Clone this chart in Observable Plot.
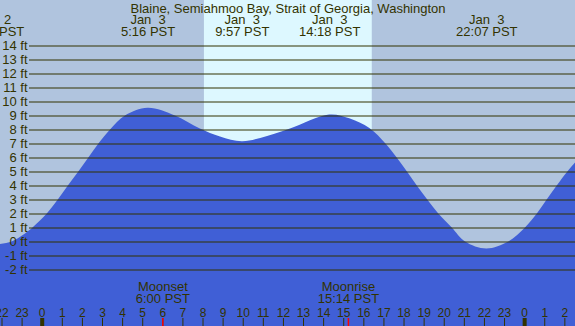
<!DOCTYPE html>
<html><head><meta charset="utf-8">
<script src="https://cdn.jsdelivr.net/npm/d3@7"></script>
<script src="https://cdn.jsdelivr.net/npm/@observablehq/plot@0.6"></script>
<style>
body{margin:0;background:#b0c4de;overflow:hidden}
svg{display:block}
svg text{white-space:pre}
</style>
</head><body><div id="chart"></div>
<script>
const title = "Blaine, Semiahmoo Bay, Strait of Georgia, Washington";

// tide height (ft); hours relative to midnight Jan 3 (PST)
const tideHours = [-2.42, -1.5, -0.83, -0.42, 0.25, 0.80, 1.30, 1.82, 2.32, 2.82, 3.40, 4.14, 5.267, 6.63, 7.87, 8.87, 9.95, 10.87, 12.35, 14.3, 15.3, 16.3, 17.1, 17.66, 18.17, 18.66, 19.18, 19.73, 20.40, 21.06, 22.117, 23.21, 24.04, 24.63, 25.12, 25.62, 26.15, 26.6];
const tideFeet  = [-0.25, 0.0, 0.57, 1.05, 2.0, 3.0, 4.0, 5.0, 6.0, 7.0, 8.0, 9.0, 9.55, 9.0, 8.07, 7.5, 7.16, 7.4, 8.07, 9.07, 8.8, 8.1, 7.0, 6.0, 5.0, 4.0, 3.0, 2.0, 1.0, 0.0, -0.5, 0.0, 1.0, 2.0, 3.0, 4.0, 5.0, 5.75];

// tide extremes labelled at the top
const extremeHours = [-2.42, 5.267, 9.95, 14.3, 22.117];
const extremeDays  = ["Jan  2", "Jan  3", "Jan  3", "Jan  3", "Jan  3"];
const extremeTimes = ["21:35 PST", "5:16 PST", "9:57 PST", "14:18 PST", "22:07 PST"];

// moon events labelled at the bottom
const moonHours  = [6.0, 15.233];
const moonEvents = ["Moonset", "Moonrise"];
const moonTimes  = ["6:00 PST", "15:14 PST"];

// daylight
const sunriseHours = [8.07];
const sunsetHours  = [16.42];

// axes
const feetTicks  = [-2, -1, 0, 1, 2, 3, 4, 5, 6, 7, 8, 9, 10, 11, 12, 13, 14];
const hourTicks  = [-2, -1, 0, 1, 2, 3, 4, 5, 6, 7, 8, 9, 10, 11, 12, 13, 14, 15, 16, 17, 18, 19, 20, 21, 22, 23, 24, 25, 26];
const hourLabels = ["22", "23", "0", "1", "2", "3", "4", "5", "6", "7", "8", "9", "10", "11", "12", "13", "14", "15", "16", "17", "18", "19", "20", "21", "22", "23", "0", "1", "2"];
const midnightTicks = [0, 24];

const xDomain = [-2.075, 26.53];
const yDomain = [-6.036, 17.25];

const tide = tideHours.map((h, i) => ({h, ft: tideFeet[i]}));
const daylight = sunriseHours.map((s, i) => ({start: s, end: sunsetHours[i]}));
const extremes = extremeHours.map((h, i) => ({h, label: extremeDays[i] + "\n" + extremeTimes[i]}));
const moon = moonHours.map((h, i) => ({h, label: moonEvents[i] + "\n" + moonTimes[i]}));
const hours = hourTicks.map((h, i) => ({h, label: hourLabels[i]}));

const ink = "#333300";

const chart = Plot.plot({
  width: 575,
  height: 326,
  margin: 0,
  style: {background: "#b0c4de", fontFamily: "'Liberation Sans', Arial, sans-serif", fontSize: "13px", color: ink, overflow: "hidden"},
  x: {domain: xDomain, range: [0, 575], axis: null},
  y: {domain: yDomain, range: [326, 0], axis: null},
  marks: [
    Plot.rect(daylight, {x1: "start", x2: "end", fill: "#ddf8ff"}),
    Plot.areaY(tide, {x: "h", y1: () => yDomain[0], y2: "ft", curve: "catmull-rom", fill: "#405fd6", clip: true}),
    Plot.ruleY(feetTicks, {y: d => d, insetLeft: 29, stroke: ink, strokeWidth: 1.2}),
    Plot.text(feetTicks, {y: d => d, text: d => `${d} ft`, frameAnchor: "left", textAnchor: "end", dx: 27, fill: ink, fontSize: 13}),
    Plot.text([title], {text: d => d, frameAnchor: "top", lineAnchor: "top", dy: 3, fill: ink, fontSize: 13}),
    Plot.text(extremes, {x: "h", text: "label", frameAnchor: "top", lineAnchor: "top", dy: 14.8, lineHeight: 0.923, fill: ink, fontSize: 13}),
    Plot.text(moon, {x: "h", text: "label", frameAnchor: "bottom", lineAnchor: "top", dy: -43.5, lineHeight: 0.9, fill: ink, fontSize: 13}),
    Plot.ruleX(hours, {x: "h", insetTop: 318, stroke: ink, strokeWidth: 1}),
    Plot.ruleX(midnightTicks, {x: d => d, insetTop: 318, stroke: ink, strokeWidth: 4}),
    Plot.ruleX(moonHours, {x: d => d, insetTop: 318, stroke: "red", strokeWidth: 1.5}),
    Plot.text(hours, {x: "h", text: "label", frameAnchor: "bottom", lineAnchor: "top", dy: -18.5, fill: ink, fontSize: 12})
  ]
});
document.getElementById("chart").appendChild(chart);
</script>
</body></html>
